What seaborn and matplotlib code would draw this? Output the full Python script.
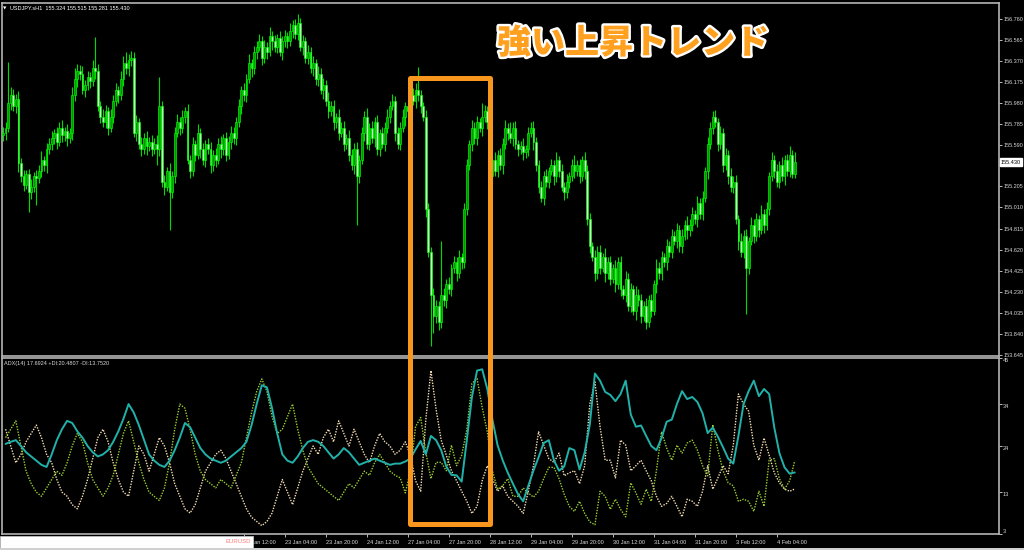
import matplotlib
matplotlib.use("Agg")
import matplotlib.pyplot as plt
import matplotlib.patheffects as pe
from matplotlib.patches import Rectangle
import numpy as np
import pandas as pd
import seaborn as sns

# ---- USDJPY H1 candles (close per bar, wicks in 0.01 yen) ----
first_open = 155.68
closes = [
    155.70, 155.75, 155.98, 156.05, 155.95, 156.02, 155.42, 155.30, 155.22, 155.32,
    155.15, 155.20, 155.30, 155.28, 155.35, 155.45, 155.40, 155.55, 155.60, 155.65,
    155.70, 155.62, 155.75, 155.68, 155.72, 155.65, 155.70, 156.05, 156.20, 156.28,
    156.25, 156.10, 156.15, 156.22, 156.18, 156.30, 156.28, 155.95, 155.85, 155.80,
    155.90, 155.75, 155.85, 156.00, 156.10, 156.05, 156.20, 156.35, 156.30, 156.38,
    156.40, 155.70, 155.80, 155.60, 155.55, 155.65, 155.58, 155.62, 155.55, 155.60,
    155.55, 155.95, 155.25, 155.20, 155.35, 155.15, 155.30, 155.70, 155.80, 155.75,
    155.85, 155.90, 155.45, 155.35, 155.60, 155.50, 155.70, 155.55, 155.45, 155.60,
    155.55, 155.40, 155.50, 155.45, 155.60, 155.55, 155.65, 155.50, 155.62, 155.70,
    155.65, 155.80, 155.95, 156.10, 156.05, 156.20, 156.35, 156.30, 156.45, 156.50,
    156.55, 156.40, 156.50, 156.45, 156.60, 156.55, 156.50, 156.58, 156.45, 156.55,
    156.60, 156.55, 156.65, 156.70, 156.62, 156.72, 156.50, 156.55, 156.40, 156.45,
    156.30, 156.35, 156.20, 156.25, 156.10, 156.15, 156.00, 155.90, 155.95, 155.80,
    155.85, 155.70, 155.75, 155.60, 155.65, 155.50, 155.40, 155.55, 155.30, 155.45,
    155.70, 155.85, 155.60, 155.75, 155.65, 155.80, 155.55, 155.70, 155.60, 155.75,
    155.85, 155.95, 156.00, 155.70, 155.60, 155.75, 155.85, 155.95,
    155.90, 156.05, 156.00, 156.10, 156.05, 155.95, 155.85, 155.00, 154.60, 154.20,
    154.00, 154.10, 153.95, 154.20, 154.15, 154.30, 154.25, 154.45, 154.50, 154.40,
    154.55, 154.50, 155.00, 155.40, 155.60, 155.75, 155.65, 155.80, 155.75, 155.85,
    155.90, 155.80, 155.30, 155.45, 155.35, 155.50, 155.40, 155.60, 155.75, 155.70,
    155.65, 155.75, 155.60, 155.55, 155.58, 155.52, 155.55, 155.70, 155.75, 155.62,
    155.40, 155.20, 155.10, 155.30, 155.25, 155.35, 155.40, 155.30, 155.45, 155.35,
    155.20, 155.15, 155.25, 155.30, 155.40, 155.35, 155.40, 155.30, 155.45, 155.35,
    154.90, 154.65, 154.55, 154.40, 154.60, 154.45, 154.55, 154.40, 154.50, 154.35,
    154.45, 154.30, 154.50, 154.25, 154.20, 154.35, 154.10, 154.25, 154.05, 154.20,
    154.15, 154.00, 154.10, 153.95, 154.15, 154.05, 154.30, 154.45, 154.40, 154.55,
    154.50, 154.65, 154.60, 154.75, 154.70, 154.80, 154.65, 154.75, 154.85, 154.80,
    154.85, 154.95, 154.90, 155.05, 154.95, 155.10, 155.35, 155.60, 155.75, 155.85,
    155.80, 155.60, 155.70, 155.40, 155.50, 155.30, 155.20, 155.25, 154.90, 154.70,
    154.60, 154.75, 154.45, 154.70, 154.85, 154.75, 154.90, 154.80, 154.95, 154.85,
    155.00, 155.30, 155.45, 155.35, 155.25, 155.40, 155.30, 155.45, 155.35, 155.50,
    155.32, 155.43,
]
upper_wick = [
    6, 5, 38, 8, 6, 4, 7, 5, 6, 4,   5, 7, 4, 6, 5, 8, 4, 6, 5, 7,
    4, 6, 5, 7, 4, 6, 5, 8, 10, 6,   5, 7, 4, 6, 5, 8, 29, 6, 5, 7,
    6, 4, 7, 5, 6, 4, 8, 6, 10, 5,   6, 5, 7, 4, 6, 5, 7, 4, 6, 5,
    8, 27, 5, 6, 4, 7, 5, 6, 8, 5,   6, 4, 7, 5, 6, 4, 8, 5, 6, 4,
    5, 7, 4, 6, 5, 7, 4, 6, 5, 7,    6, 5, 7, 4, 6, 5, 8, 4, 6, 5,
    7, 5, 6, 4, 8, 5, 6, 4, 7, 5,    6, 4, 7, 5, 6, 8, 5, 6, 4, 7,
    5, 6, 4, 7, 5, 6, 4, 8, 5, 6,    4, 7, 5, 6, 4, 8, 5, 6, 7, 5,
    6, 5, 8, 4, 6, 5, 7, 4, 6, 5,    7, 5, 6, 4, 6, 5, 7, 4, 6, 5,
    7, 6, 21, 5, 4, 6, 5, 4, 6, 5,   4, 50, 6, 5, 7, 4, 6, 5, 7, 4,
    5, 6, 4, 7, 5, 6, 4, 13, 6, 5,   6, 5, 7, 4, 6, 5, 7, 4, 10, 5,
    6, 4, 5, 7, 4, 6, 5, 6, 4, 5,    6, 5, 7, 4, 6, 5, 7, 4, 6, 5,
    7, 4, 6, 10, 5, 6, 4, 7, 5, 6,   4, 7, 5, 6, 4, 8, 5, 6, 4, 7,
    5, 6, 4, 7, 5, 6, 4, 8, 5, 6,    4, 7, 5, 6, 4, 8, 5, 6, 4, 7,
    5, 6, 4, 7, 5, 6, 4, 8, 5, 6,    4, 7, 5, 6, 4, 6, 5, 5, 6, 4,
    7, 5, 6, 4, 8, 5, 6, 4, 7, 5,    6, 4, 7, 5, 6, 4, 8, 5, 6, 4,
    7, 5, 6, 4, 8, 5, 6, 8, 4, 9,
]
lower_wick = [
    5, 6, 4, 7, 5, 6, 8, 5, 6, 4,    18, 6, 5, 25, 4, 6, 5, 7, 4, 6,
    5, 7, 4, 6, 5, 7, 4, 6, 5, 7,    6, 4, 7, 5, 6, 4, 8, 5, 6, 4,
    5, 7, 4, 6, 5, 7, 4, 6, 5, 7,    6, 4, 7, 5, 6, 4, 8, 5, 6, 4,
    15, 6, 5, 7, 4, 35, 5, 6, 4, 7,  5, 6, 4, 7, 5, 6, 4, 8, 5, 6,
    4, 7, 5, 6, 4, 8, 5, 6, 4, 7,    5, 6, 4, 7, 5, 6, 4, 8, 5, 6,
    4, 7, 5, 6, 4, 8, 5, 6, 4, 7,    5, 6, 4, 7, 5, 6, 4, 8, 5, 6,
    4, 7, 5, 6, 4, 8, 5, 6, 4, 7,    5, 6, 4, 7, 5, 6, 4, 8, 45, 6,
    4, 7, 5, 6, 4, 8, 5, 6, 4, 7,    5, 6, 4, 7, 5, 6, 4, 8, 5, 6,
    4, 7, 5, 6, 4, 8, 5, 47, 15, 6,  8, 6, 5, 7, 4, 6, 5, 7, 4, 6,
    5, 6, 4, 7, 5, 6, 4, 8, 5, 6,    4, 7, 5, 6, 4, 8, 5, 6, 4, 7,
    5, 6, 4, 7, 5, 6, 4, 8, 5, 6,    4, 7, 5, 6, 4, 8, 5, 6, 4, 7,
    5, 6, 4, 7, 5, 6, 4, 8, 5, 6,    4, 7, 5, 6, 4, 8, 5, 6, 4, 7,
    5, 6, 4, 7, 5, 6, 4, 8, 5, 6,    4, 7, 5, 6, 4, 8, 5, 6, 4, 7,
    5, 6, 4, 7, 5, 6, 4, 8, 5, 6,    4, 7, 5, 6, 4, 8, 5, 6, 4, 7,
    5, 6, 4, 7, 5, 6, 4, 8, 5, 6,    43, 6, 4, 7, 5, 6, 4, 8, 5, 6,
    4, 7, 5, 6, 4, 8, 5, 6, 4, 4,
]

# ---- ADX(14), read every second bar (bars 1, 3, ..., 309) ----
adx = [
    24.5, 25.0, 25.4, 24.0, 22.5, 21.5, 20.5, 19.5, 19.0, 22.0,
    25.4, 28.0, 30.0, 29.5, 27.5, 26.0, 24.0, 22.5, 21.5, 22.0,
    23.0, 25.0, 27.5, 30.5, 34.0, 32.0, 29.0, 25.5, 22.0, 20.5,
    19.5, 19.0, 20.5, 23.0, 26.0, 29.5, 28.5, 26.0, 23.5, 22.0,
    21.0, 20.5, 20.0, 20.5, 21.5, 22.5, 23.5, 25.0, 29.0, 34.0,
    38.5, 38.0, 33.0, 27.0, 22.0, 20.5, 20.0, 21.5, 23.5, 25.0,
    25.4, 25.0, 24.0, 22.5, 21.0, 22.0, 23.5, 22.5, 21.0, 19.5,
    20.0, 20.5, 21.0, 20.5, 20.0, 19.5, 19.8,
    19.8, 20.3, 21.0, 23.2, 25.2, 22.0, 26.4, 25.4, 23.0, 19.1,
    17.1, 17.0, 15.5, 25.4, 35.7, 42.0, 42.3, 37.6, 30.3, 24.2,
    20.6, 17.6, 15.0, 12.5, 10.8, 14.5, 18.1, 21.3, 24.7, 25.4,
    20.6, 18.1, 19.1, 23.5, 23.0, 18.4, 22.5, 29.1, 41.3, 39.6,
    36.9, 36.2, 34.7, 36.4, 39.6, 31.5, 28.6, 28.9, 26.4, 24.0,
    23.0, 25.9, 29.8, 30.3, 34.0, 37.1, 35.2, 35.7, 34.5, 31.8,
    27.1, 28.4, 26.2, 23.7, 21.0, 19.8, 26.4, 34.0, 37.1, 39.6,
    35.9, 37.6, 36.4, 28.4, 22.3, 18.9, 17.4, 17.69,
]
plus_di = [
    26, 28, 30, 24, 18, 15, 13, 12, 14, 16,
    18, 17, 20, 24, 27, 25, 20, 16, 14, 12,
    14, 17, 22, 27, 30, 25, 20, 16, 13, 12,
    11, 14, 20, 28, 34, 33, 28, 22, 18, 16,
    15, 14, 16, 15, 14, 17, 20, 26, 32, 37,
    40, 37, 31, 27, 28, 31, 34, 28, 23, 19,
    17, 15, 14, 13, 12, 11, 13, 15, 14, 16,
    18, 17, 20, 22, 20, 18, 17,
    16.4, 12.8, 18.1, 28.6, 30.8, 22.5, 16.2, 20.1, 20.1, 18.1,
    24.2, 19.3, 21.8, 27.9, 38.9, 40.1, 33.2, 27.4, 18.1, 13.7,
    14.5, 16.2, 12.0, 12.0, 14.0, 12.8, 11.8, 13.2, 16.2, 18.9,
    18.9, 16.2, 12.5, 9.6, 8.4, 10.8, 7.9, 5.9, 5.2, 13.2,
    12.0, 8.9, 11.3, 8.9, 7.1, 15.2, 12.8, 10.1, 13.7, 10.8,
    18.1, 27.4, 23.5, 20.6, 24.2, 22.3, 24.7, 25.4, 23.0, 19.3,
    16.9, 29.1, 23.0, 18.1, 15.2, 14.5, 10.8, 11.3, 10.8, 8.4,
    13.2, 9.6, 20.6, 21.0, 16.2, 13.7, 15.7, 20.48,
]
minus_di = [
    28, 24, 20, 22, 25, 27, 29, 26, 22, 20,
    16, 13, 12, 10, 9, 12, 16, 21, 26, 28,
    25, 20, 16, 13, 12, 18, 24, 22, 18, 22,
    26, 24, 20, 15, 12, 9, 8, 10, 14, 18,
    20, 22, 23, 21, 18, 15, 12, 9, 7, 6,
    5, 6, 8, 12, 16, 13, 10, 14, 18, 21,
    24, 22, 26, 28, 25, 30, 27, 24, 28, 25,
    22, 20, 24, 27, 25, 24, 22,
    23.0, 25.0, 21.8, 15.7, 13.2, 30.3, 42.0, 32.8, 25.4, 21.8,
    18.1, 15.7, 13.2, 10.8, 7.9, 9.6, 15.7, 19.3, 16.2, 13.2,
    14.5, 12.0, 10.8, 9.6, 7.9, 13.2, 19.3, 27.4, 24.2, 21.0,
    20.1, 22.3, 16.9, 17.6, 18.1, 15.0, 19.3, 34.0, 39.3, 28.6,
    20.6, 20.6, 16.4, 25.4, 24.2, 18.1, 19.3, 20.6, 18.1, 15.7,
    12.0, 9.6, 10.3, 12.0, 9.6, 7.1, 11.3, 10.8, 9.6, 13.2,
    19.3, 13.7, 16.4, 19.3, 17.4, 24.2, 36.4, 34.0, 32.3, 24.2,
    20.6, 25.9, 21.8, 17.6, 15.2, 13.7, 13.2, 13.75,
]

price_ticks = [156.760, 156.565, 156.370, 156.175, 155.980, 155.785, 155.590, 155.400,
               155.205, 155.010, 154.815, 154.620, 154.425, 154.230, 154.035, 153.840, 153.645]
adx_ticks = [45, 34, 24, 13, 3]
time_labels = ["22 Jan 12:00", "23 Jan 04:00", "23 Jan 20:00", "24 Jan 12:00", "27 Jan 04:00",
               "27 Jan 20:00", "28 Jan 12:00", "29 Jan 04:00", "29 Jan 20:00", "30 Jan 12:00",
               "31 Jan 04:00", "31 Jan 20:00", "3 Feb 12:00", "4 Feb 04:00"]
time_label_bars = [94, 110, 126, 142, 158, 174, 190, 206, 222, 238, 254, 270, 286, 302]

# ---- build OHLC table ----
df = pd.DataFrame({"close": closes})
df["bar"] = np.arange(len(df))
df["open"] = [first_open] + closes[:-1]
df["high"] = df[["open", "close"]].max(axis=1) + np.array(upper_wick) / 100
df["low"] = df[["open", "close"]].min(axis=1) - np.array(lower_wick) / 100
adx_df = pd.DataFrame({"bar": np.arange(1, 2 * len(adx), 2), "adx": adx,
                       "plus": plus_di, "minus": minus_di})

sns.set_theme(style="dark", rc={"axes.facecolor": "black", "figure.facecolor": "black"})
plt.rcParams["font.family"] = ["Liberation Sans", "DejaVu Sans"]

W, H = 1024, 550
fig = plt.figure(figsize=(W / 100, H / 100), dpi=100)
fig.patch.set_facecolor("black")


def fx(x):
    return x / W


def fy(y):
    return 1 - y / H


ax1 = fig.add_axes([fx(2), fy(356), fx(997), 353 / H])
ax2 = fig.add_axes([fx(2), fy(534), fx(997), 176 / H])
xlim = (-0.4, 388.7)
frame = "#b4b4b4"
label_col = "#d8d8d8"
fs = 4.0

for ax in (ax1, ax2):
    ax.set_facecolor("black")
    ax.set_xlim(*xlim)
    ax.grid(False)
    for s in ax.spines.values():
        s.set_color(frame)
        s.set_linewidth(1.2)

# candles
up = df["close"] >= df["open"]
ax1.vlines(df["bar"], df["low"], df["high"], color="#00dc00", lw=0.8, zorder=2)
body_h = (df["close"] - df["open"]).abs().clip(lower=0.006)
body_b = df[["open", "close"]].min(axis=1)
ax1.bar(df["bar"][up], body_h[up], bottom=body_b[up], width=0.7, color="#009a00",
        edgecolor="#00ff00", linewidth=0.45, zorder=3)
ax1.bar(df["bar"][~up], body_h[~up], bottom=body_b[~up], width=0.7, color="#c8ffc8",
        edgecolor="#00ff00", linewidth=0.45, zorder=3)
ax1.set_ylim(153.633, 156.906)
ax1.set_xticks([])
ax1.yaxis.tick_right()
ax1.set_yticks(price_ticks)
ax1.set_yticklabels([f"{v:.3f}" for v in price_ticks])
ax1.tick_params(axis="y", colors=label_col, labelsize=fs, length=2.5, width=0.6, pad=1,
                direction="out", right=True, left=False)

# current price box
fig.text(fx(1011), fy(162), "155.430", fontsize=fs, color="black", ha="center", va="center",
         bbox=dict(boxstyle="square,pad=0.25", fc="white", ec="white"))

# ADX panel
sns.lineplot(data=adx_df, x="bar", y="minus", ax=ax2, color="#f5deb3", lw=1.0,
             linestyle=(0, (1, 1)))
sns.lineplot(data=adx_df, x="bar", y="plus", ax=ax2, color="#9acd32", lw=1.0,
             linestyle=(0, (1, 1)))
sns.lineplot(data=adx_df, x="bar", y="adx", ax=ax2, color="#20b2aa", lw=1.4)
ax2.set_ylim(3, 45)
ax2.set_xlim(*xlim)
ax2.set_xlabel("")
ax2.set_ylabel("")
ax2.yaxis.tick_right()
ax2.set_yticks(adx_ticks)
ax2.set_yticklabels([])
ax2.tick_params(axis="y", colors=label_col, length=2.5, width=0.6, right=True, left=False)
for i, v in enumerate(adx_ticks):
    ax2.text(1.004, v, str(v), transform=ax2.get_yaxis_transform(), fontsize=fs,
             color=label_col, ha="left", va="bottom" if i == len(adx_ticks) - 1 else "top")
ax2.set_xticks(time_label_bars)
ax2.set_xticklabels(time_labels)
ax2.tick_params(axis="x", colors=label_col, labelsize=fs, length=2.5, width=0.6, pad=2,
                bottom=True)
for t in ax2.get_xticklabels():
    t.set_ha("left")

# chart captions
fig.text(fx(3), fy(9), "\u25bc", fontsize=3.2, color="white", va="center",
         family=["DejaVu Sans"])
fig.text(fx(10), fy(9), "USDJPY.sH1  155.324 155.515 155.281 155.430", fontsize=fs,
         color="white", va="center")
fig.text(fx(4), fy(364), "ADX(14) 17.6924 +DI:20.4807 -DI:13.7520", fontsize=fs,
         color=label_col, va="center")

# symbol tab strip
fig.patches.append(Rectangle((0, fy(549)), fx(253), 13 / H, transform=fig.transFigure,
                             fc="white", ec="#c0c0c0", lw=0.6, zorder=5))
fig.text(fx(251), fy(541.5), "EURUSD", fontsize=4.3, color="#ff7a7a", ha="right",
         va="center", zorder=6)
fig.patches.append(Rectangle((0, 0), 1, 2 / H, transform=fig.transFigure,
                             fc="#d0d0d0", ec="none", zorder=5))

# highlight box and caption
fig.patches.append(Rectangle((fx(410), fy(524)), fx(80), 446 / H, transform=fig.transFigure,
                             fill=False, ec="#f8961e", lw=3.6, joinstyle="round", zorder=8))
fig.text(fx(633), fy(43), "強い上昇トレンド", fontsize=24.5, fontweight="black",
         family=["Noto Sans CJK JP", "DejaVu Sans"], color="#ffa01e", ha="center",
         va="center", zorder=9,
         path_effects=[pe.withStroke(linewidth=3.5, foreground="white")])

fig.savefig("out.png", dpi=100, facecolor="black")
